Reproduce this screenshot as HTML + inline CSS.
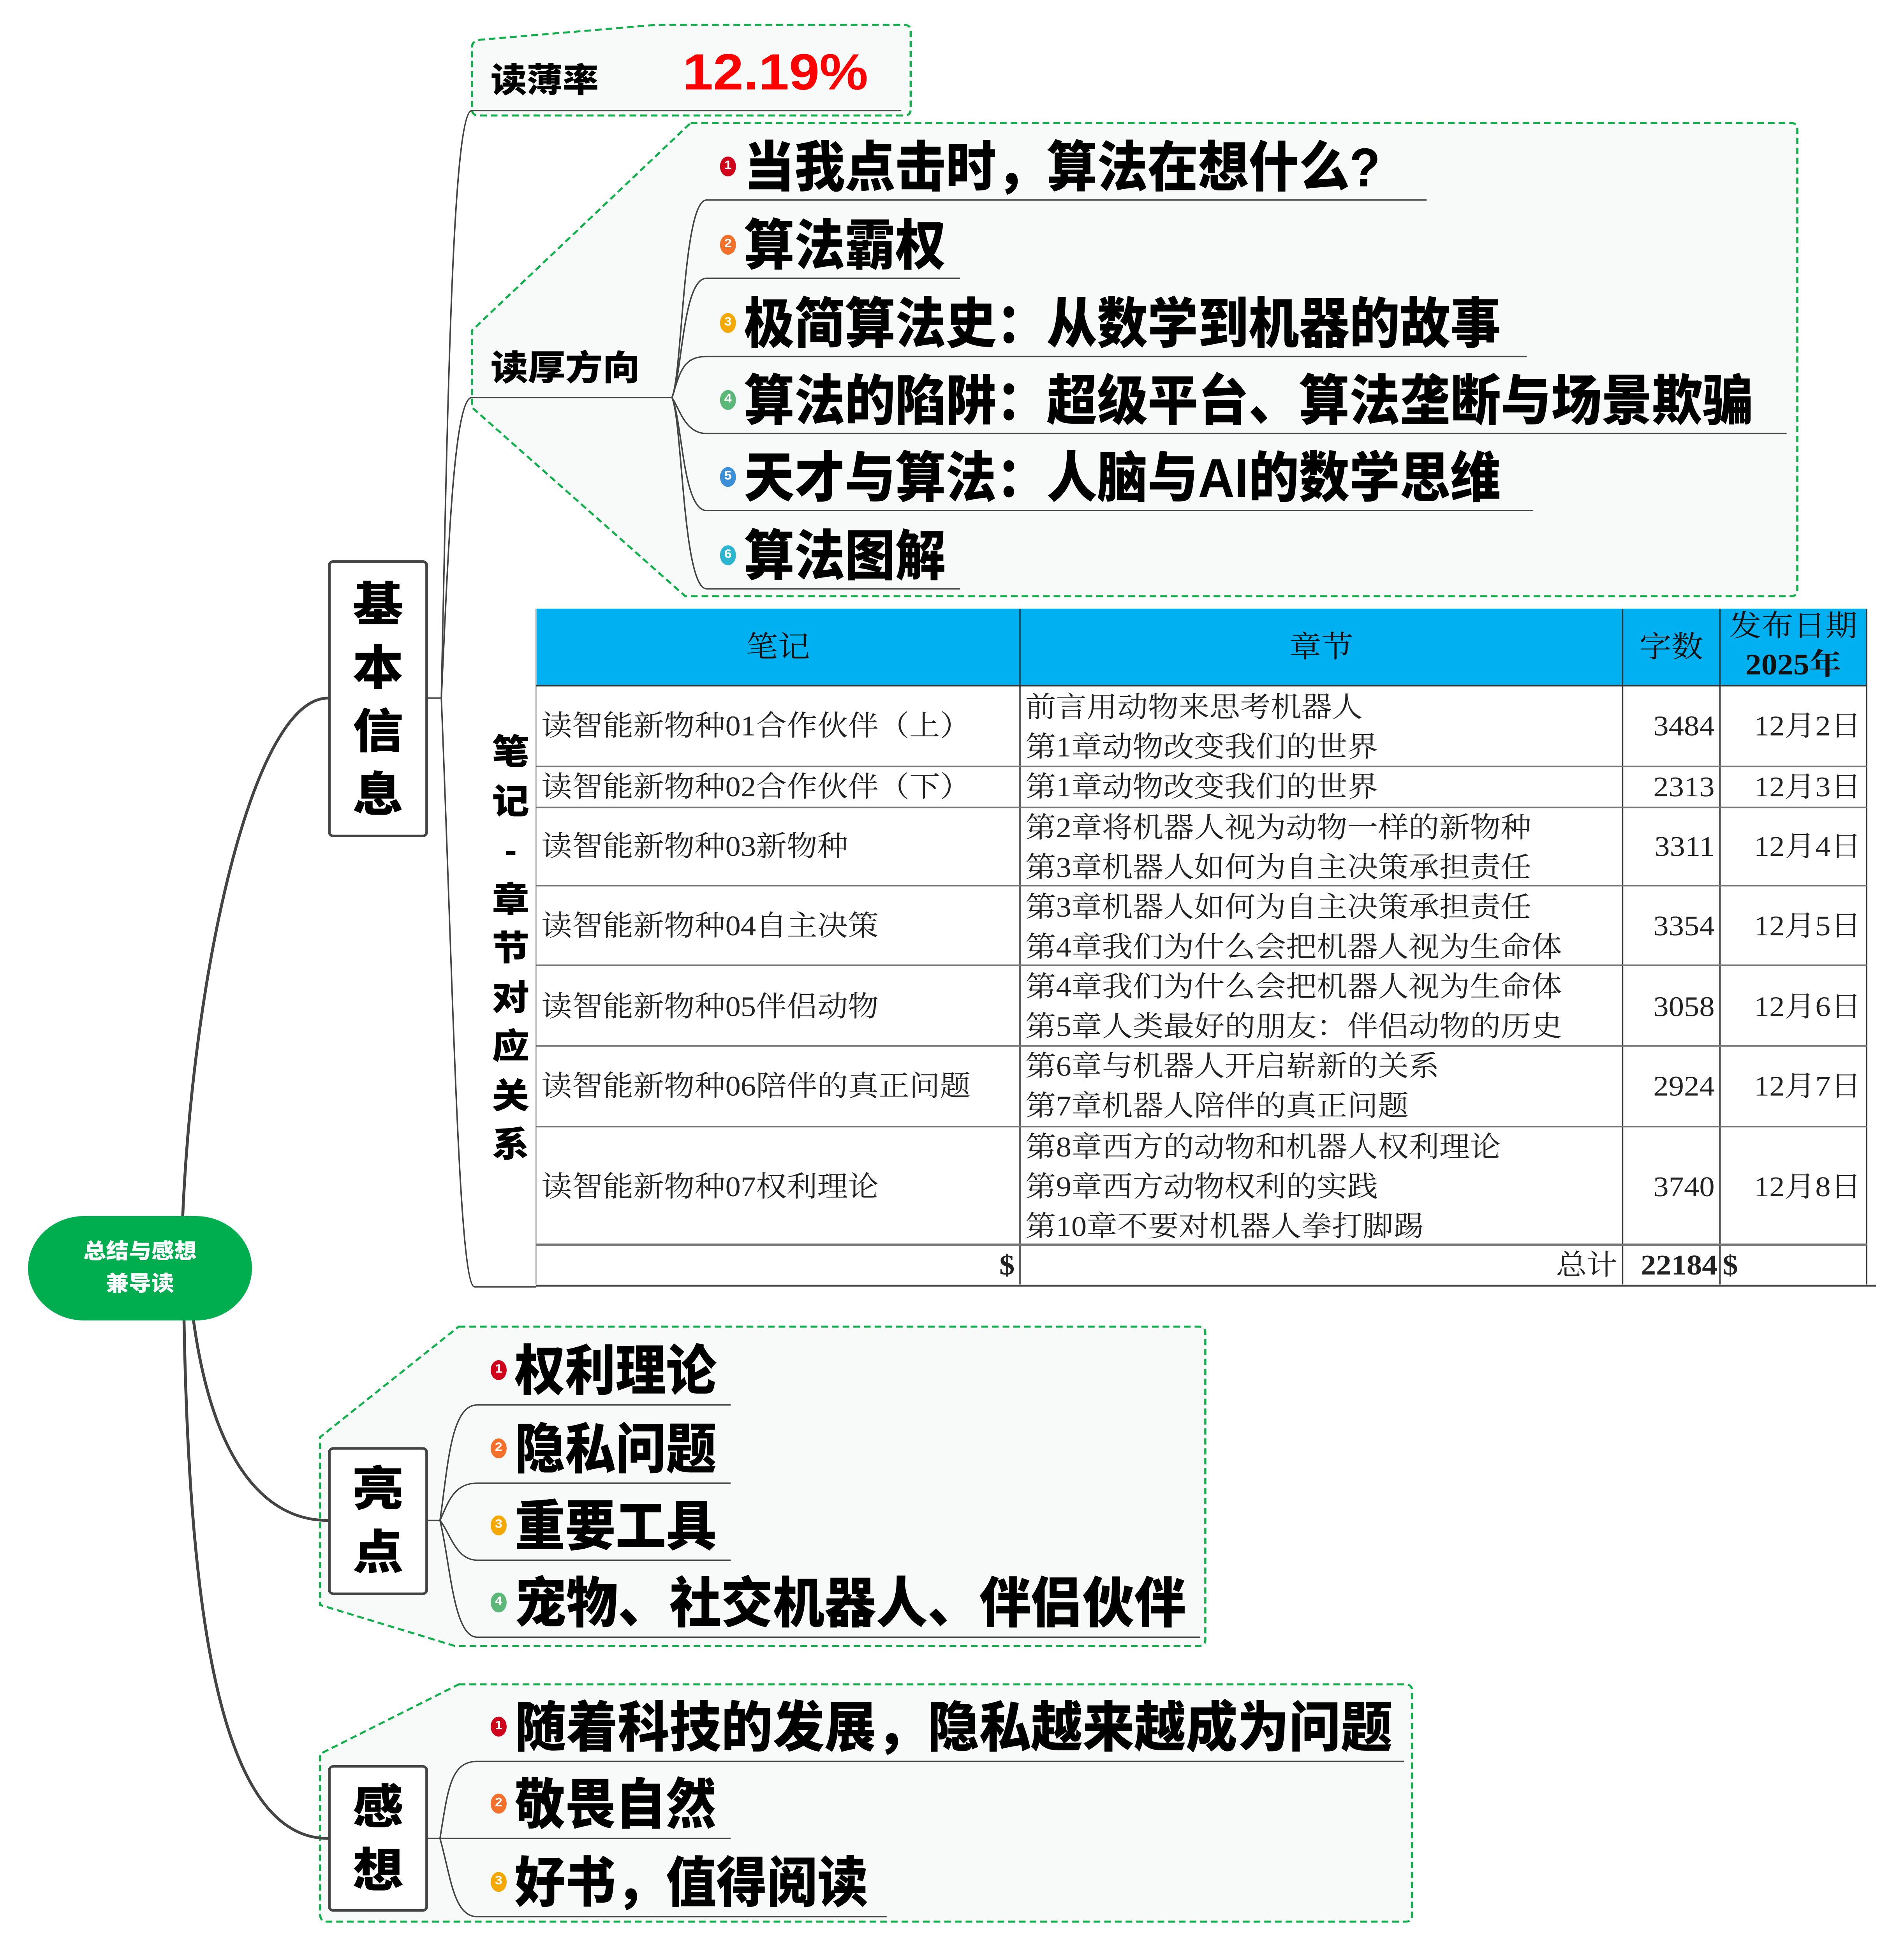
<!DOCTYPE html>
<html><head><meta charset="utf-8">
<style>
html,body{margin:0;padding:0;background:#fff;width:4889px;height:5373px;overflow:hidden;}
body{position:relative;}
#w{position:absolute;left:0;top:0;width:1428px;height:1569px;overflow:hidden;transform:scale(3.4236,3.19);transform-origin:0 0;}
.a{position:absolute;white-space:nowrap;}
.h{font-family:"Liberation Sans","Noto Sans CJK SC",sans-serif;font-weight:900;color:#000;}
.it{position:absolute;left:0;height:46px;line-height:46px;font-size:44px;transform:scaleX(0.86);transform-origin:0 50%;font-family:"Liberation Sans","Noto Sans CJK SC",sans-serif;font-weight:900;white-space:nowrap;}
.num{position:absolute;width:12px;height:16px;border-radius:50%;color:#fff;font:bold 10px/16px "Liberation Sans",sans-serif;text-align:center;}
.box{position:absolute;background:#fff;border:2px solid #444;border-radius:4px;box-sizing:border-box;font-family:"Liberation Sans","Noto Sans CJK SC",sans-serif;font-weight:900;font-size:38px;text-align:center;line-height:51px;overflow:hidden;}
.t{position:absolute;font-family:"Liberation Serif","Noto Serif CJK SC",serif;font-size:23px;color:#222;white-space:nowrap;line-height:32px;}
.th{position:absolute;font-family:"Liberation Serif","Noto Serif CJK SC",serif;font-size:24px;color:#111;white-space:nowrap;text-align:center;}
</style></head><body><div id="w">
<svg width="1428" height="1569" style="position:absolute;left:0;top:0">
<path d="M354,38 Q354,33 360,32 L492,20 L678,20 Q683,20 683,25 L683,88 Q683,93 678,93 L359,93 Q354,93 354,88 Z" fill="#f8faf9" stroke="#10b04a" stroke-width="1.6" stroke-dasharray="5,3"/>
<path d="M518,99 L1343,99 Q1348,99 1348,104 L1348,475 Q1348,480 1343,480 L514,480 L354,328 L354,266 Z" fill="#f8faf9" stroke="#10b04a" stroke-width="1.6" stroke-dasharray="5,3"/>
<path d="M344,1068 L899,1068 Q904,1068 904,1073 L904,1320 Q904,1325 899,1325 L341,1325 L240,1292 L240,1157 Z" fill="#f8faf9" stroke="#10b04a" stroke-width="1.6" stroke-dasharray="5,3"/>
<path d="M344,1356 L1054,1356 Q1059,1356 1059,1361 L1059,1542 Q1059,1547 1054,1547 L245,1547 Q240,1547 240,1540 L240,1412 Z" fill="#f8faf9" stroke="#10b04a" stroke-width="1.6" stroke-dasharray="5,3"/>
<g fill="none" stroke="#444" stroke-width="2.2">
<path d="M137,980 C145,780 190,562 246,562"/>
<path d="M145,1062 C160,1180 200,1224 246,1224"/>
<path d="M138,1062 C142,1300 165,1480 246,1480"/>
</g>
<g fill="none" stroke="#444" stroke-width="1.1">
<path d="M321,562 L331,562"/>
<path d="M331,562 C336,300 340,89 354,89 L676,89"/>
<path d="M331,562 C336,450 340,320 354,320 L504,320"/>
<path d="M331,562 C340,800 344,1036 356,1036 L402,1036"/>
<path d="M504,320 C512,300 512,161 530,161 L1070,161"/>
<path d="M504,320 C512,300 512,224 530,224 L720,224"/>
<path d="M504,320 C510,300 512,287 530,287 L1145,287"/>
<path d="M504,320 C510,330 514,349 530,349 L1340,349"/>
<path d="M504,320 C512,340 512,411 530,411 L1150,411"/>
<path d="M504,320 C512,340 512,474 530,474 L720,474"/>
<path d="M321,1224 L330,1224"/>
<path d="M330,1224 C336,1180 338,1131 358,1131 L548,1131"/>
<path d="M330,1224 C336,1210 340,1194 358,1194 L548,1194"/>
<path d="M330,1224 C338,1235 342,1256 358,1256 L548,1256"/>
<path d="M330,1224 C338,1260 340,1318 358,1318 L900,1318"/>
<path d="M321,1480 L330,1480"/>
<path d="M330,1480 C336,1440 338,1418 358,1418 L1053,1418"/>
<path d="M330,1480 L548,1480"/>
<path d="M330,1480 C338,1510 340,1543 358,1543 L665,1543"/>
</g>
</svg>

<div class="a" style="left:21px;top:979px;width:168px;height:84px;border-radius:42px;background:#00ad4f;color:#fff;font:900 17px/26px 'Liberation Sans','Noto Sans CJK SC',sans-serif;text-align:center;padding-top:16px;box-sizing:border-box;">总结与感想<br>兼导读</div>

<div class="box" style="left:246px;top:451px;width:75px;height:223px;padding-top:10px;">基<br>本<br>信<br>息</div>
<div class="box" style="left:246px;top:1165px;width:75px;height:119px;padding-top:8px;">亮<br>点</div>
<div class="box" style="left:246px;top:1421px;width:75px;height:118px;padding-top:8px;">感<br>想</div>

<div class="a h" style="left:368px;top:46px;font-size:27px;line-height:38px;">读薄率</div>
<div class="a" style="left:512px;top:34px;font:bold 41px/48px 'Liberation Sans',sans-serif;color:#ff0000;">12.19%</div>
<div class="a h" style="left:368px;top:278px;font-size:28px;line-height:38px;">读厚方向</div>
<div class="a h" style="left:368px;top:586px;width:30px;font-size:28px;line-height:39.5px;text-align:center;white-space:normal;">笔<br>记<br>-<br>章<br>节<br>对<br>应<br>关<br>系</div>

<div class="a" style="left:538px;top:113px;width:540px;height:46px;"><div class="num" style="left:2px;top:13px;background:#d0021b">1</div><div class="it" style="left:20px">当我点击时，算法在想什么?</div></div>
<div class="a" style="left:538px;top:176px;width:540px;height:46px;"><div class="num" style="left:2px;top:13px;background:#f5702a">2</div><div class="it" style="left:20px">算法霸权</div></div>
<div class="a" style="left:538px;top:239px;width:640px;height:46px;"><div class="num" style="left:2px;top:13px;background:#f5a800">3</div><div class="it" style="left:20px">极简算法史：从数学到机器的故事</div></div>
<div class="a" style="left:538px;top:301px;width:800px;height:46px;"><div class="num" style="left:2px;top:13px;background:#5cb878">4</div><div class="it" style="left:20px">算法的陷阱：超级平台、算法垄断与场景欺骗</div></div>
<div class="a" style="left:538px;top:363px;width:640px;height:46px;"><div class="num" style="left:2px;top:13px;background:#3b8ed8">5</div><div class="it" style="left:20px">天才与算法：人脑与AI的数学思维</div></div>
<div class="a" style="left:538px;top:426px;width:240px;height:46px;"><div class="num" style="left:2px;top:13px;background:#2bb5d0">6</div><div class="it" style="left:20px">算法图解</div></div>

<div class="a" style="left:366px;top:1082px;width:240px;height:46px;"><div class="num" style="left:2px;top:13px;background:#d0021b">1</div><div class="it" style="left:20px">权利理论</div></div>
<div class="a" style="left:366px;top:1145px;width:240px;height:46px;"><div class="num" style="left:2px;top:13px;background:#f5702a">2</div><div class="it" style="left:20px">隐私问题</div></div>
<div class="a" style="left:366px;top:1207px;width:240px;height:46px;"><div class="num" style="left:2px;top:13px;background:#f5a800">3</div><div class="it" style="left:20px">重要工具</div></div>
<div class="a" style="left:366px;top:1269px;width:530px;height:46px;"><div class="num" style="left:2px;top:13px;background:#5cb878">4</div><div class="it" style="left:20px;transform:scaleX(0.88)">宠物、社交机器人、伴侣伙伴</div></div>

<div class="a" style="left:366px;top:1369px;width:680px;height:46px;"><div class="num" style="left:2px;top:13px;background:#d0021b">1</div><div class="it" style="left:20px;transform:scaleX(0.88)">随着科技的发展，隐私越来越成为问题</div></div>
<div class="a" style="left:366px;top:1431px;width:240px;height:46px;"><div class="num" style="left:2px;top:13px;background:#f5702a">2</div><div class="it" style="left:20px">敬畏自然</div></div>
<div class="a" style="left:366px;top:1494px;width:300px;height:46px;"><div class="num" style="left:2px;top:13px;background:#f5a800">3</div><div class="it" style="left:20px">好书，值得阅读</div></div>

<div class="a" style="left:402px;top:490px;width:998px;height:62px;background:#00b0f0;"></div>
<div class="a" style="left:402px;top:552px;width:998px;height:482px;background:#fff;"></div>
<svg width="1428" height="1569" style="position:absolute;left:0;top:0">
<g stroke="#333" stroke-width="1">
<line x1="402" y1="490" x2="402" y2="1034" stroke="#bbb"/>
<line x1="765" y1="490" x2="765" y2="1034"/>
<line x1="1217" y1="490" x2="1217" y2="1034"/>
<line x1="1290" y1="490" x2="1290" y2="1034"/>
<line x1="1400" y1="490" x2="1400" y2="1034"/>
</g>
<g stroke="#777" stroke-width="1.2">
<line x1="402" y1="552" x2="1400" y2="552" stroke="#333"/>
<line x1="402" y1="617" x2="1400" y2="617"/>
<line x1="402" y1="650" x2="1400" y2="650"/>
<line x1="402" y1="713" x2="1400" y2="713"/>
<line x1="402" y1="777" x2="1400" y2="777"/>
<line x1="402" y1="842" x2="1400" y2="842"/>
<line x1="402" y1="907" x2="1400" y2="907"/>
<line x1="402" y1="1002" x2="1400" y2="1002" stroke-width="1.8"/>
<line x1="402" y1="1035" x2="1407" y2="1035" stroke="#444" stroke-width="1.5"/>
</g>
</svg>
<div class="th" style="left:402px;top:506px;width:363px;line-height:32px;">笔记</div>
<div class="th" style="left:765px;top:506px;width:452px;line-height:32px;">章节</div>
<div class="th" style="left:1217px;top:506px;width:73px;line-height:32px;">字数</div>
<div class="th" style="left:1290px;top:490px;width:110px;line-height:31px;">发布日期<br><b>2025年</b></div>

<div class="t" style="left:406px;top:569px">读智能新物种01合作伙伴（上）</div>
<div class="t" style="left:406px;top:618px">读智能新物种02合作伙伴（下）</div>
<div class="t" style="left:406px;top:666px">读智能新物种03新物种</div>
<div class="t" style="left:406px;top:730px">读智能新物种04自主决策</div>
<div class="t" style="left:406px;top:795px">读智能新物种05伴侣动物</div>
<div class="t" style="left:406px;top:859px">读智能新物种06陪伴的真正问题</div>
<div class="t" style="left:406px;top:940px">读智能新物种07权利理论</div>

<div class="t" style="left:769px;top:554px">前言用动物来思考机器人<br>第1章动物改变我们的世界</div>
<div class="t" style="left:769px;top:618px">第1章动物改变我们的世界</div>
<div class="t" style="left:769px;top:651px">第2章将机器人视为动物一样的新物种<br>第3章机器人如何为自主决策承担责任</div>
<div class="t" style="left:769px;top:715px">第3章机器人如何为自主决策承担责任<br>第4章我们为什么会把机器人视为生命体</div>
<div class="t" style="left:769px;top:779px">第4章我们为什么会把机器人视为生命体<br>第5章人类最好的朋友：伴侣动物的历史</div>
<div class="t" style="left:769px;top:843px">第6章与机器人开启崭新的关系<br>第7章机器人陪伴的真正问题</div>
<div class="t" style="left:769px;top:908px">第8章西方的动物和机器人权利理论<br>第9章西方动物权利的实践<br>第10章不要对机器人拳打脚踢</div>

<div class="t" style="left:1217px;width:69px;text-align:right;top:569px">3484</div>
<div class="t" style="left:1217px;width:69px;text-align:right;top:618px">2313</div>
<div class="t" style="left:1217px;width:69px;text-align:right;top:666px">3311</div>
<div class="t" style="left:1217px;width:69px;text-align:right;top:730px">3354</div>
<div class="t" style="left:1217px;width:69px;text-align:right;top:795px">3058</div>
<div class="t" style="left:1217px;width:69px;text-align:right;top:859px">2924</div>
<div class="t" style="left:1217px;width:69px;text-align:right;top:940px">3740</div>

<div class="t" style="left:1290px;width:106px;text-align:right;top:569px">12月2日</div>
<div class="t" style="left:1290px;width:106px;text-align:right;top:618px">12月3日</div>
<div class="t" style="left:1290px;width:106px;text-align:right;top:666px">12月4日</div>
<div class="t" style="left:1290px;width:106px;text-align:right;top:730px">12月5日</div>
<div class="t" style="left:1290px;width:106px;text-align:right;top:795px">12月6日</div>
<div class="t" style="left:1290px;width:106px;text-align:right;top:859px">12月7日</div>
<div class="t" style="left:1290px;width:106px;text-align:right;top:940px">12月8日</div>

<div class="t" style="left:402px;width:359px;text-align:right;top:1003px;font-weight:bold">$</div>
<div class="t" style="left:765px;width:448px;text-align:right;top:1003px">总计</div>
<div class="t" style="left:1217px;width:71px;text-align:right;top:1003px;font-weight:bold">22184</div>
<div class="t" style="left:1292px;top:1003px;font-weight:bold">$</div>
</div></body></html>
